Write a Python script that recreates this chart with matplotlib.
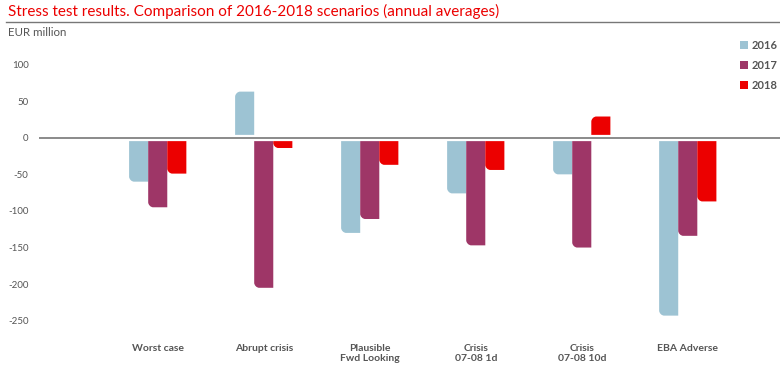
import matplotlib
matplotlib.use("Agg")
import matplotlib.pyplot as plt
from matplotlib.path import Path
from matplotlib.patches import PathPatch, Patch
from matplotlib.lines import Line2D
import matplotlib.patheffects as pe
import numpy as np

categories = ["Worst case", "Abrupt crisis", "Plausible\nFwd Looking",
              "Crisis\n07-08 1d", "Crisis\n07-08 10d", "EBA Adverse"]
series_names = ["2016", "2017", "2018"]
values_2016 = [-60, 63, -130, -76, -50, -243]
values_2017 = [-95, -205, -111, -147, -150, -134]
values_2018 = [-49, -14, -37, -44, 29, -87]
y_ticks = [100, 50, 0, -50, -100, -150, -200, -250]
colors = ["#9DC3D3", "#9E3667", "#EC0000"]

plt.rcParams['font.family'] = ['Lato', 'DejaVu Sans']

W, H = 780, 371
fig = plt.figure(figsize=(W / 100, H / 100), dpi=100)
ax_left, ax_right = 39, 780
ax_top, ax_bot = 49.9, 342.7
ax = fig.add_axes([ax_left / W, (H - ax_bot) / H, (ax_right - ax_left) / W, (ax_bot - ax_top) / H])
xlim = (-1.12, 5.87)
ylim = (-280, 120)
ax.set_xlim(*xlim)
ax.set_ylim(*ylim)

px_per_x = (ax_right - ax_left) / (xlim[1] - xlim[0])
px_per_y = (ax_bot - ax_top) / (ylim[1] - ylim[0])
rad = 5.0
rx, ry = rad / px_per_x, rad / px_per_y

x = np.arange(len(categories))
bw = 0.18
all_vals = [values_2016, values_2017, values_2018]
for i, (vals, c) in enumerate(zip(all_vals, colors)):
    bars = ax.bar(x + (i - 1) * bw, vals, width=bw, color=c, zorder=2)
    for r in bars.patches:
        x0 = r.get_x()
        w = r.get_width()
        h = r.get_height()
        y0 = r.get_y()
        yend = y0 + h
        s = 1 if h > 0 else -1
        k = 0.45
        r_y = min(ry, abs(h))
        verts = [(x0 + w, y0), (x0 + w, yend), (x0 + rx, yend),
                 (x0 + rx * k, yend), (x0, yend - s * r_y * (1 - k)), (x0, yend - s * r_y),
                 (x0, y0), (x0 + w, y0)]
        codes = [Path.MOVETO, Path.LINETO, Path.LINETO,
                 Path.CURVE4, Path.CURVE4, Path.CURVE4,
                 Path.LINETO, Path.CLOSEPOLY]
        ax.add_patch(PathPatch(Path(verts, codes), facecolor=c, edgecolor='none', zorder=2))
        r.remove()

ax.axhline(0, color="#8A8A8A", lw=1.4, zorder=3,
           path_effects=[pe.Stroke(linewidth=4.5, foreground='white'), pe.Normal()])

for sp in ax.spines.values():
    sp.set_visible(False)
ax.set_yticks(y_ticks)
ax.set_yticklabels([str(v) for v in y_ticks])
ax.tick_params(axis='y', length=0, pad=7.5, labelsize=7, labelcolor="#555555")
ax.set_xticks(x)
ax.set_xticklabels(categories, fontsize=7.5, fontweight='bold', color="#555555", linespacing=1.2)
ax.tick_params(axis='x', length=0, pad=1)

handles = [Patch(facecolor=c, edgecolor='none') for c in colors]
leg = ax.legend(handles, series_names, loc='upper left', bbox_to_anchor=(739.5 / W, 1 - 40 / H),
                bbox_transform=fig.transFigure, frameon=False, fontsize=8,
                handlelength=0.75, handleheight=0.75, handletextpad=0.3, labelspacing=0.8,
                borderaxespad=0, borderpad=0)
for t in leg.get_texts():
    t.set_color("#555555")
    t.set_fontweight('bold')

fig.text(8 / W, 1 - 11.5 / H, "Stress test results. Comparison of 2016-2018 scenarios (annual averages)",
         color="#EC0000", fontsize=11, va='center', ha='left')
fig.add_artist(Line2D([6 / W, 1.0], [1 - 21.5 / H, 1 - 21.5 / H], color="#777777", lw=1.0))
fig.text(8 / W, 1 - 32.5 / H, "EUR million", color="#555555", fontsize=8.3, va='center', ha='left')

fig.savefig("out.png", dpi=100, facecolor='white')
